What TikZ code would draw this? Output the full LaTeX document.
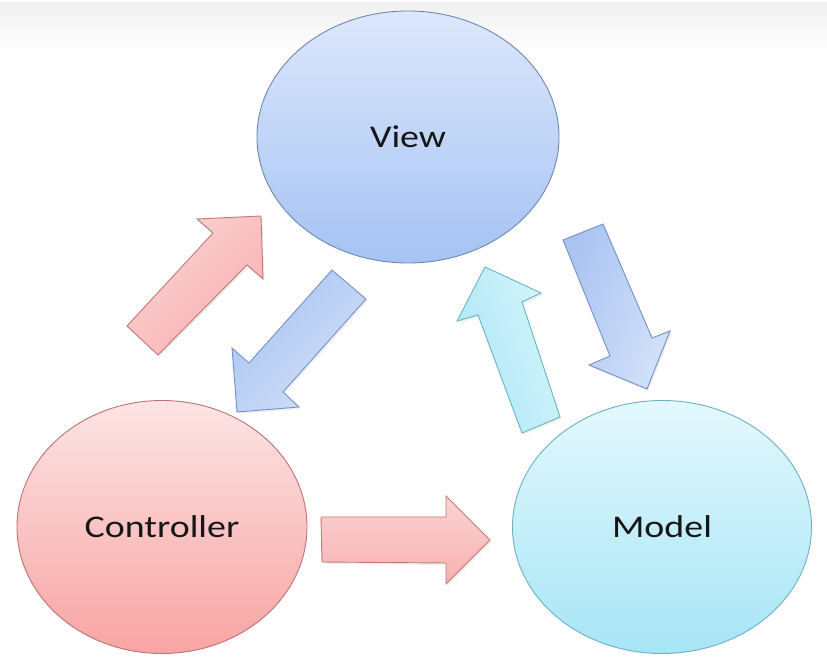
\documentclass[tikz,border=0pt]{standalone}
\usepackage{fontspec}
\newfontfamily\lblfont{Carlito}
\usetikzlibrary{shapes.geometric,shadows}
\definecolor{viewtop}{HTML}{DCE7FB}
\definecolor{viewbot}{HTML}{A6C3F4}
\definecolor{viewline}{HTML}{6F88AC}
\definecolor{ctrltop}{HTML}{FDE4E4}
\definecolor{ctrlbot}{HTML}{F8A4A4}
\definecolor{ctrlline}{HTML}{BF7272}
\definecolor{modtop}{HTML}{E3F8FD}
\definecolor{modbot}{HTML}{A7E5F6}
\definecolor{modline}{HTML}{6AB2C0}
\definecolor{redA}{HTML}{FBD3D3}
\definecolor{redB}{HTML}{F8B0B0}
\definecolor{redline}{HTML}{C27878}
\definecolor{bluA}{HTML}{D3E1FA}
\definecolor{bluB}{HTML}{A9C3F2}
\definecolor{blueline}{HTML}{7592C2}
\definecolor{cyaA}{HTML}{D6F5FC}
\definecolor{cyaB}{HTML}{ABE6F6}
\definecolor{cyanline}{HTML}{68B6C2}
\definecolor{txt}{HTML}{161616}
\tikzset{
  bubble/.style={ellipse, line width=0.9pt, inner sep=0pt,
    font=\lblfont\fontsize{31.6}{36}\selectfont, text=txt},
  blockarrow/.style={line width=0.9pt, line join=miter,
    drop shadow={opacity=0.12, shadow xshift=1.5pt, shadow yshift=-2pt}},
}
\newcommand{\wide}[1]{\scalebox{1.2}[1]{#1}}
\begin{document}
\begin{tikzpicture}[x=1pt,y=-1pt]
\useasboundingbox (0,0) rectangle (827,666);
\fill[white] (0,0) rectangle (827,666);
\shade[top color=black!6, bottom color=white] (0,3) rectangle (827,52);

% ellipses
\node[bubble, minimum width=302pt, minimum height=252pt,
      top color=viewtop, bottom color=viewbot, draw=viewline] (view) at (408,137) {\wide{View}};
\node[bubble, minimum width=290pt, minimum height=253pt,
      top color=ctrltop, bottom color=ctrlbot, draw=ctrlline] (ctrl) at (162,527) {\wide{Controller}};
\node[bubble, minimum width=299pt, minimum height=253pt,
      top color=modtop, bottom color=modbot, draw=modline] (model) at (662,527) {\wide{Model}};

% block arrows
% Controller -> View
\shade[blockarrow, top color=redA, bottom color=redB, shading angle=45, draw=redline]
  (127,326) -- (213,233) -- (197,219) -- (261,216) -- (263,279) -- (247,265) -- (158,355) -- cycle;
% View -> Controller
\shade[blockarrow, top color=bluA, bottom color=bluB, shading angle=-135, draw=blueline]
  (332,270) -- (249,363) -- (232,348) -- (237,412) -- (299,407) -- (283,392) -- (366,299) -- cycle;
% Model -> View
\shade[blockarrow, top color=cyaA, bottom color=cyaB, shading angle=-70, draw=cyanline]
  (522,433) -- (478,315) -- (457,321) -- (485,267) -- (541,293) -- (522,302) -- (560,417) -- cycle;
% View -> Model
\shade[blockarrow, top color=bluA, bottom color=bluB, shading angle=-110, draw=blueline]
  (563,240) -- (610,356) -- (589,365) -- (647,389) -- (670,331) -- (652,338) -- (603,224) -- cycle;
% Controller -> Model
\shade[blockarrow, top color=redA, bottom color=redB, draw=redline]
  (321,517) -- (446,517) -- (446,496) -- (490,540) -- (446,584) -- (446,563) -- (322,562) -- cycle;
\end{tikzpicture}
\end{document}
